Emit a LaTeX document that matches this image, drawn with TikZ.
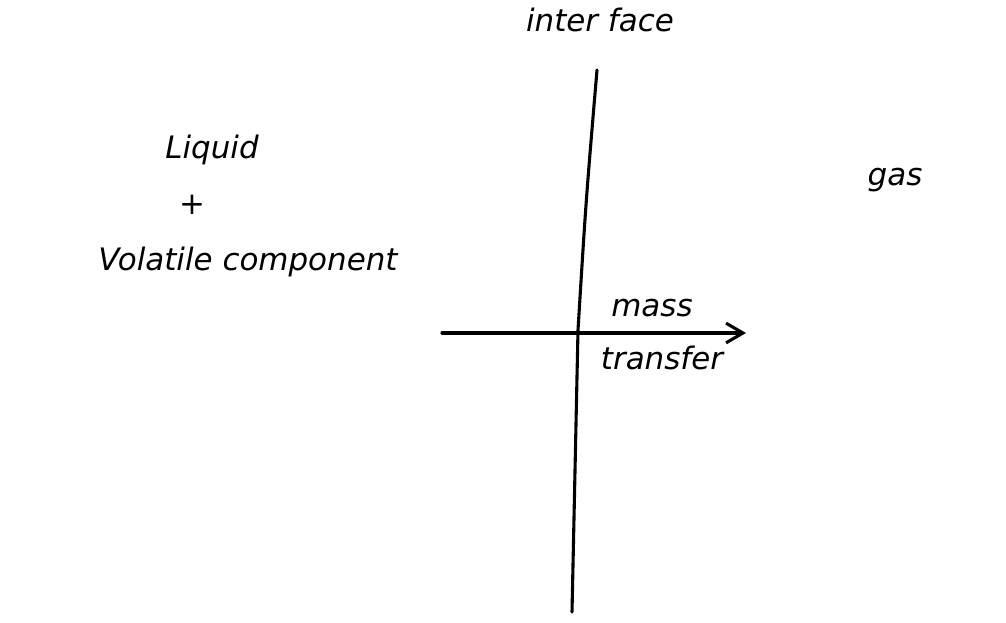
\documentclass[tikz,border=0pt]{standalone}
\usepackage{fontspec}
\setmainfont{DejaVu Sans}
\usetikzlibrary{arrows.meta}
\begin{document}
\begin{tikzpicture}[x=0.025cm,y=-0.025cm,
  lbl/.style={inner sep=0pt,font=\fontsize{22}{26}\selectfont\itshape},
  pen/.style={line width=2.2pt,line cap=round,line join=round}]
\useasboundingbox (0,0) rectangle (1006,623);
\node[lbl] (iface) at (600,20) {inter face};
\node[lbl] (liq) at (212,150) {Liquid};
\node[lbl] (plus) at (192,205) {+};
\node[lbl] (vol) at (248,262) {Volatile component};
\node[lbl] (gas) at (895,180) {gas};
\node[lbl] (mass) at (652,308) {mass};
\node[lbl] (transf) at (662,358) {transfer};
\coordinate (top) at (597,70);
\coordinate (mid) at (578,330);
\coordinate (bot) at (572,612);
\draw[pen] (top) .. controls (586,200) .. (mid) -- (bot);
\coordinate (al) at (442,333);
\coordinate (ar) at (746,333);
\draw[pen,-{Straight Barb[length=12pt,width=14pt]}] (al) -- (ar);
\end{tikzpicture}
\end{document}
